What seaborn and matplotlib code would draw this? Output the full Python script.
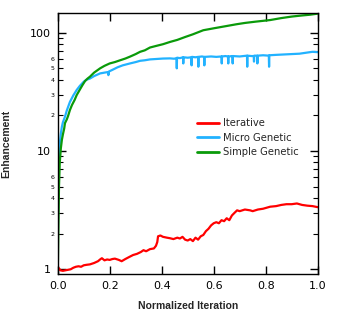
import numpy as np
import pandas as pd
import matplotlib
matplotlib.use("Agg")
import matplotlib.pyplot as plt
import matplotlib.ticker as mticker
import seaborn as sns

# ---- data ----
series_names = ["Iterative", "Micro Genetic", "Simple Genetic"]

iter_x = [0, 0.005, 0.01, 0.02, 0.03, 0.04, 0.05, 0.06, 0.07, 0.08, 0.09, 0.1, 0.11, 0.124,
          0.14, 0.155, 0.165, 0.17, 0.18, 0.19, 0.2, 0.21, 0.22, 0.235, 0.246, 0.26, 0.275,
          0.29, 0.305, 0.32, 0.33, 0.34, 0.355, 0.37, 0.378, 0.383, 0.386, 0.395, 0.405, 0.42,
          0.432, 0.445, 0.46, 0.47, 0.48, 0.49, 0.5, 0.51, 0.52, 0.53, 0.54, 0.55, 0.56, 0.57,
          0.58, 0.59, 0.6, 0.61, 0.62, 0.63, 0.64, 0.65, 0.66, 0.67, 0.68, 0.69, 0.7, 0.72,
          0.74, 0.75, 0.77, 0.79, 0.817, 0.84, 0.86, 0.88, 0.9, 0.92, 0.94, 0.96, 0.98, 1.0]
iter_y = [1.0, 1.02, 0.98, 0.97, 0.98, 0.99, 1.0, 1.03, 1.05, 1.06, 1.05, 1.08, 1.09, 1.10,
          1.13, 1.17, 1.22, 1.24, 1.19, 1.21, 1.2, 1.22, 1.23, 1.2, 1.17, 1.22, 1.27,
          1.32, 1.35, 1.4, 1.45, 1.42, 1.48, 1.5, 1.58, 1.7, 1.9, 1.93, 1.88, 1.85,
          1.83, 1.8, 1.85, 1.82, 1.88, 1.78, 1.75, 1.8, 1.73, 1.85, 1.78, 1.9, 1.95, 2.1,
          2.2, 2.35, 2.45, 2.5, 2.45, 2.6, 2.55, 2.7, 2.6, 2.85, 3.0, 3.15, 3.1, 3.2,
          3.15, 3.1, 3.2, 3.25, 3.38, 3.42, 3.5, 3.55, 3.55, 3.6, 3.5, 3.45, 3.42, 3.35]

micro_x = [0, 0.001, 0.003, 0.005, 0.008, 0.012, 0.016, 0.02, 0.028, 0.035, 0.047, 0.06,
           0.073, 0.085, 0.1, 0.11, 0.124, 0.14, 0.163, 0.18, 0.193, 0.195, 0.197, 0.21,
           0.23, 0.25, 0.278, 0.3, 0.317, 0.335, 0.355, 0.38, 0.405, 0.432, 0.448, 0.457,
           0.458, 0.459, 0.47, 0.482, 0.483, 0.484, 0.5, 0.514, 0.515, 0.516, 0.53, 0.54,
           0.541, 0.542, 0.555, 0.563, 0.564, 0.565, 0.59, 0.61, 0.63, 0.631, 0.632, 0.645,
           0.655, 0.656, 0.657, 0.672, 0.673, 0.674, 0.7, 0.728, 0.729, 0.73, 0.745, 0.754,
           0.755, 0.756, 0.767, 0.768, 0.769, 0.79, 0.812, 0.813, 0.814, 0.84, 0.87, 0.9,
           0.93, 0.96, 0.98, 1.0]
micro_y = [1.0, 2.5, 6, 9, 11.5, 14, 16, 17.5, 19.5, 22, 26, 29.5,
           32.8, 35.5, 38.5, 40, 41, 43, 45.3, 46, 46.5, 43.8, 47, 48.5,
           51, 53, 55, 56.5, 57.9, 58.5, 59.5, 60, 60.5, 60.7, 60.3, 61,
           50, 61.5, 61, 62, 55, 62, 61.5, 62, 53, 62.5, 62, 62.5,
           51.6, 62.5, 63, 62.5, 53, 62.5, 63, 62.5, 63, 55, 63, 63.5,
           63, 55, 63, 63.5, 55, 63.5, 63, 64, 51.6, 64, 63.5, 63.5,
           57, 64, 64, 55, 64, 64.5, 64, 51.6, 64.5, 65, 65.5, 66,
           66.5, 68, 69, 68.5]

simple_x = [0, 0.001, 0.003, 0.005, 0.008, 0.012, 0.016, 0.02, 0.025, 0.028, 0.035, 0.04,
            0.047, 0.055, 0.065, 0.073, 0.085, 0.095, 0.105, 0.115, 0.124, 0.14, 0.163,
            0.18, 0.2, 0.22, 0.24, 0.26, 0.278, 0.3, 0.317, 0.335, 0.355, 0.38, 0.405,
            0.432, 0.46, 0.49, 0.52, 0.56, 0.6, 0.64, 0.688, 0.72, 0.76, 0.817, 0.86,
            0.9, 0.94, 0.97, 1.0]
simple_y = [1.0, 1.2, 2.5, 5, 8, 10.5, 12.4, 13.8, 15.5, 17.2, 18.5, 19.8,
            22.2, 24.5, 27, 29.7, 33, 36, 39, 41, 42.5, 46, 50,
            52.5, 55, 56.5, 58.5, 60.5, 62.8, 66, 69, 71, 75, 77.5, 80,
            83.6, 87, 92, 97, 105, 109, 113, 118, 121, 124, 128, 133,
            137, 140, 142, 145]

colors = {"Iterative": "#FF0000", "Micro Genetic": "#22B2FF", "Simple Genetic": "#0A9A0A"}

df = pd.concat([
    pd.DataFrame({"x": iter_x, "y": iter_y, "series": series_names[0]}),
    pd.DataFrame({"x": micro_x, "y": micro_y, "series": series_names[1]}),
    pd.DataFrame({"x": simple_x, "y": simple_y, "series": series_names[2]}),
], ignore_index=True)

sns.set_theme(style="ticks")
plt.rcParams["font.family"] = ["DejaVu Sans"]

fig = plt.figure(figsize=(3.41, 3.16), dpi=100)
ax = fig.add_axes([57.7 / 341, 1 - 274 / 316, 260 / 341, (274 - 13.3) / 316])

sns.lineplot(data=df, x="x", y="y", hue="series", hue_order=series_names,
             palette=colors, estimator=None, sort=False, linewidth=1.6, ax=ax)

ax.set_yscale("log")
ax.set_xlim(0, 1.0)
ax.set_ylim(0.912, 146)

ax.xaxis.set_major_locator(mticker.FixedLocator([0, 0.2, 0.4, 0.6, 0.8, 1.0]))
ax.xaxis.set_major_formatter(mticker.FormatStrFormatter("%.1f"))
ax.xaxis.set_minor_locator(mticker.NullLocator())

ax.yaxis.set_major_locator(mticker.FixedLocator([1, 10, 100]))
ax.yaxis.set_major_formatter(mticker.FixedFormatter(["1", "10", "100"]))
minor_pos = []
minor_lab = []
for dec in [1, 10]:
    for m in range(2, 10):
        minor_pos.append(m * dec)
        minor_lab.append(str(m) if m <= 6 else "")
ax.yaxis.set_minor_locator(mticker.FixedLocator(minor_pos))
ax.yaxis.set_minor_formatter(mticker.FixedFormatter(minor_lab))

for s in ax.spines.values():
    s.set_color("black")
    s.set_linewidth(1.0)

ax.tick_params(which="major", direction="in", top=True, right=True, length=5.5,
               width=1.0, labelsize=8, pad=5, colors="black")
ax.tick_params(which="minor", direction="in", top=False, right=True, length=3.8,
               width=0.8, labelsize=4.5, pad=2, colors="black")

ax.set_xlabel("Normalized Iteration", fontsize=7.5, fontweight="bold",
              family=["Liberation Sans", "DejaVu Sans"])
ax.set_ylabel("Enhancement", fontsize=7.5, fontweight="bold",
              family=["Liberation Sans", "DejaVu Sans"])
ax.xaxis.set_label_coords(0.5, -0.105)
ax.yaxis.set_label_coords(-0.18, 0.5)

leg = ax.legend(loc="upper left", bbox_to_anchor=(0.535, 0.597), frameon=False,
                fontsize=7.2, handlelength=2.2, handletextpad=0.45,
                borderpad=0, borderaxespad=0, labelspacing=0.45)
for line in leg.get_lines():
    line.set_linewidth(2.0)

ax.grid(False)
fig.savefig("out.png", dpi=100)
